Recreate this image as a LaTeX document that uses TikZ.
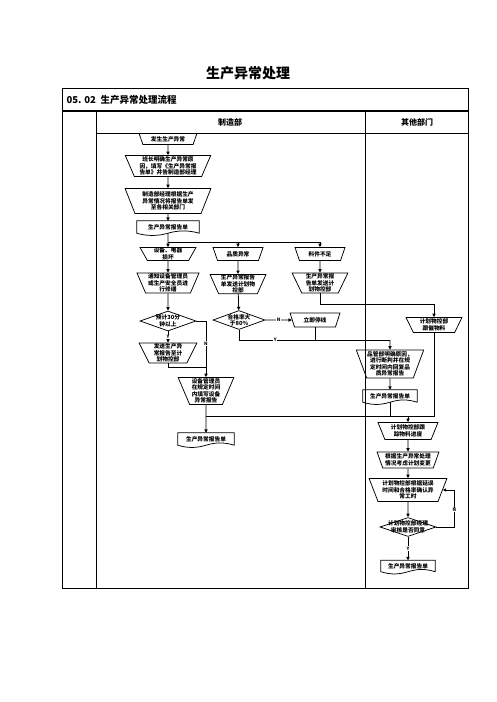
\documentclass[tikz,border=0pt]{standalone}
\usepackage{fontspec}
\setmainfont{Noto Sans CJK SC}
\usetikzlibrary{shapes.geometric,arrows.meta}
\newcommand\flowfont{\fontsize{5.7}{6.4}\selectfont\bfseries}
\newcommand\tagfont{\fontsize{4.6}{5}\selectfont\bfseries}

\begin{document}
\begin{tikzpicture}[x=1pt,y=-1pt,
  boxline/.style={line width=0.75pt},
  manop/.style={boxline,draw,trapezium,shape border rotate=180,trapezium left angle=68,trapezium right angle=68,trapezium stretches=true,align=center,font=\flowfont,inner sep=0.5pt},
  decide/.style={boxline,draw,diamond,inner sep=0pt},
  dtext/.style={align=center,font=\flowfont,inner sep=0pt},
  docbox/.style={align=center,font=\flowfont,inner sep=0pt},
  flow/.style={line width=0.8pt,-{Triangle[length=3.4pt,width=3.2pt]}},
  link/.style={line width=0.8pt},
  yn/.style={font=\tagfont,fill=white,inner sep=0.6pt}]

\useasboundingbox (0,0) rectangle (496,702);

% table frame
\draw[boxline] (62,88) rectangle (468,588);
\draw[line width=1.6pt] (62,111) -- (468,111);
\draw[boxline] (96,111) -- (96,588);
\draw[boxline] (365,111) -- (365,588);
\draw[boxline] (96,133) -- (468,133);

\node[font=\fontsize{14}{16}\selectfont\bfseries] (title) at (248,73) {生产异常处理};
\node[anchor=west,font=\fontsize{9.5}{10}\selectfont\bfseries] (head) at (63,100) {05. 02\enspace 生产异常处理流程};
\node[font=\fontsize{8}{9}\selectfont\bfseries] (mfg) at (230,122) {制造部};
\node[font=\fontsize{8}{9}\selectfont\bfseries] (other) at (417,122) {其他部门};

% manufacturing column
\node[manop,minimum width=58,minimum height=11] (start) at (168,139) {发生生产异常};
\node[manop,minimum width=86,minimum height=21] (cause) at (168,166) {班长明确生产异常原\\因，填写《生产异常报\\告单》并告制造部经理};
\node[manop,minimum width=86,minimum height=25] (notify) at (168,201) {制造部经理根据生产\\异常情况将报告单发\\至各相关部门};
\node[docbox,minimum width=62,minimum height=12] (rep1) at (168,227) {生产异常报告单};
\coordinate (split) at (168,242);

\node[manop,minimum width=56,minimum height=13] (equip) at (168,254) {设备、电器\\损坏};
\node[manop,minimum width=50,minimum height=13] (qual) at (238,254) {品质异常};
\node[manop,minimum width=50,minimum height=13] (mat) at (320,254) {料件不足};

\node[manop,minimum width=62,minimum height=20] (repair) at (168,283) {通知设备管理员\\或生产安全员进\\行修缮};
\node[manop,minimum width=56,minimum height=19] (qsend) at (238,284) {生产异常报告\\单发送计划物\\控部};
\node[manop,minimum width=56,minimum height=20] (msend) at (320,283) {生产异常报\\告单发送计\\划物控部};

\node[decide,minimum width=56,minimum height=20] (over30) at (168,321) {};
\node[dtext] (over30t) at (over30) {预计30分\\钟以上};
\node[decide,minimum width=52,minimum height=19] (pass80) at (239,320) {};
\node[dtext] (pass80t) at (pass80) {合格率大\\于80\%};
\node[manop,minimum width=50,minimum height=14] (stopl) at (315,320) {立即停线};

\node[manop,minimum width=58,minimum height=20] (psend) at (168,353) {发送生产异\\常报告至计\\划物控部};
\coordinate (merge) at (206,367);
\node[manop,minimum width=56,minimum height=27] (emgr) at (206,391) {设备管理员\\在规定时间\\内填写设备\\异常报告};
\coordinate (branch) at (206,416);
\node[docbox,minimum width=56,minimum height=12] (rep2) at (206,439) {生产异常报告单};

% other departments column
\node[manop,minimum width=56,minimum height=15] (chase) at (434,325) {计划物控部\\跟催物料};
\coordinate (qjoin) at (390,340);
\node[manop,minimum width=66,minimum height=28] (qmgr) at (390,364) {品管部明确原因，\\进行断判并在规\\定时间内回复品\\质异常报告};
\node[docbox,minimum width=54,minimum height=12] (rep3) at (390,396) {生产异常报告单};
\node[manop,minimum width=60,minimum height=17] (track) at (408,431) {计划物控部跟\\踪物料进度};
\node[manop,minimum width=62,minimum height=16] (replan) at (408,460) {根据生产异常处理\\情况考虑计划变更};
\node[manop,minimum width=78,minimum height=23] (hours) at (408,490) {计划物控部根据延误\\时间和合格率确认异\\常工时};
\node[decide,minimum width=56,minimum height=19] (approve) at (408,527) {};
\node[dtext] (approvet) at (approve) {计划物控部经理\\审核是否同意};
\node[docbox,minimum width=54,minimum height=11] (rep4) at (408,566) {生产异常报告单};

% document outlines
\foreach \d in {rep1,rep2,rep3,rep4}
  \draw[boxline] (\d.north west) -- (\d.north east) -- (\d.south east)
    .. controls +(-10,-3) and +(10,-3) .. (\d.south)
    .. controls +(-10,3) and +(10,3) .. (\d.south west) -- cycle;

% connectors
\draw[flow] (start) -- (cause);
\draw[flow] (cause) -- (notify);
\draw[flow] (notify) -- (rep1);
\draw[flow] (rep1.south) -- (equip);
\draw[flow] (split) -| (qual.north);
\draw[flow] (split) -| (mat.north);
\draw[flow] (equip) -- (repair);
\draw[flow] (qual) -- (qsend);
\draw[flow] (mat) -- (msend);
\draw[flow] (repair) -- (over30);
\draw[flow] (qsend) -- (pass80);
\draw[flow] (over30) -- node[yn] {Y} (psend);
\draw[flow] (over30.east) -| node[yn,pos=0.7] {N} (emgr.north);
\draw[link] (psend.south) |- (merge);
\draw[flow] (emgr) -- (rep2);
\draw[flow] (pass80.east) -- node[yn] {N} (stopl.west);
\draw[link] (pass80.south) |- node[yn,pos=0.62] {Y} (qjoin);
\draw[link] (stopl.south) -- (stopl.south |- qjoin);
\draw[flow] (qjoin) -- (qmgr.north);
\draw[flow] (msend.south) -- ++(0,11) -| (chase.north);
\draw[flow] (qmgr) -- (rep3);
\draw[flow] (branch) -| (track.north);
\draw[link] (chase.south) |- (track.north |- branch);
\draw[link] (rep3.south) -- (rep3.south |- branch);
\draw[flow] (track) -- (replan);
\draw[flow] (replan) -- (hours);
\draw[flow] (hours) -- (approve);
\draw[flow] (approve.east) -- ++(18,0) |- node[yn,pos=0.23] {N} (hours.east);
\draw[flow] (approve) -- node[yn] {Y} (rep4);

\end{tikzpicture}
\end{document}
